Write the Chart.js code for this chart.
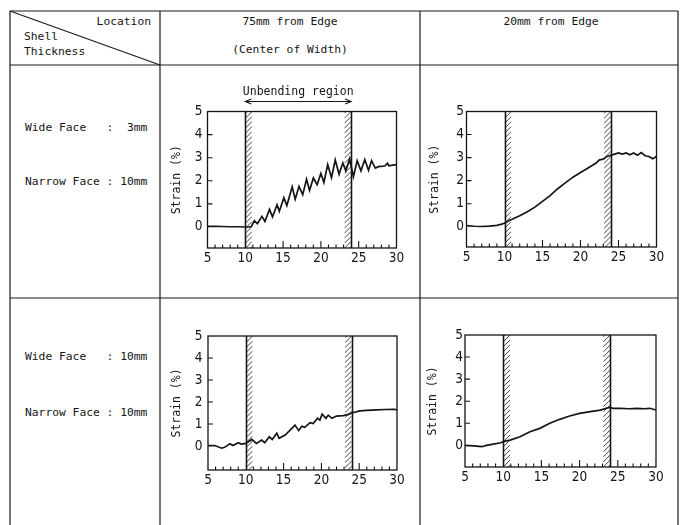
<!DOCTYPE html>
<html><head><meta charset="utf-8">
<script src="https://cdn.jsdelivr.net/npm/chart.js@4.4.1/dist/chart.umd.min.js"></script>
<style>
html,body{margin:0;padding:0;background:#fff;}
#page{position:relative;width:685px;height:525px;overflow:hidden;background:#fff;font-family:"DejaVu Sans Mono",monospace;font-size:11.3px;color:#151515;}
.t{position:absolute;white-space:pre;line-height:1;transform:translateY(-50%);}
.tc{position:absolute;white-space:pre;line-height:1;transform:translate(-50%,-50%);}
.tr{position:absolute;white-space:pre;line-height:1;transform:translate(-100%,-50%);}
canvas{position:absolute;}
svg{position:absolute;left:0;top:0;}
</style></head><body>
<div id="page">
<svg width="685" height="525">
  <g stroke="#1a1a1a" stroke-width="1.2" fill="none">
    <line x1="10" y1="11" x2="678" y2="11"/>
    <line x1="10" y1="65" x2="678" y2="65"/>
    <line x1="10" y1="298" x2="678" y2="298"/>
    <line x1="10" y1="11" x2="10" y2="525"/>
    <line x1="160" y1="11" x2="160" y2="525"/>
    <line x1="420" y1="11" x2="420" y2="525"/>
    <line x1="678" y1="11" x2="678" y2="525"/>
    <line x1="10" y1="11" x2="160" y2="65"/>
  </g>
</svg>
<div class="tr" style="left:151px;top:22px">Location</div>
<div class="t" style="left:24px;top:37px">Shell</div>
<div class="t" style="left:24px;top:52px">Thickness</div>
<div class="tc" style="left:290px;top:22px">75mm from Edge</div>
<div class="tc" style="left:290px;top:50px">(Center of Width)</div>
<div class="tc" style="left:551px;top:22px">20mm from Edge</div>
<div class="t" style="left:25px;top:128px">Wide Face   :  3mm</div>
<div class="t" style="left:25px;top:182px">Narrow Face : 10mm</div>
<div class="t" style="left:25px;top:357px">Wide Face   : 10mm</div>
<div class="t" style="left:25px;top:413px">Narrow Face : 10mm</div>
<canvas id="c1" width="260" height="200" style="left:160px;top:80px"></canvas>
<canvas id="c2" width="260" height="200" style="left:420px;top:80px"></canvas>
<canvas id="c3" width="260" height="200" style="left:160px;top:300px"></canvas>
<canvas id="c4" width="260" height="200" style="left:420px;top:300px"></canvas>
</div>
<script>
// ---- data ----
const xTickValues = [5, 10, 15, 20, 25, 30];
const xMinorTicks = [6, 7, 8, 9, 11, 12, 13, 14, 16, 17, 18, 19, 21, 22, 23, 26, 27, 28, 29];
const xMajorTicks = [15, 20, 25];
const yTickValues = [0, 1, 2, 3, 4, 5];
const yTickMarks = [1, 2, 3, 4];
const bandLines = [10, 24];
const hatchBands = [[10, 10.9], [23.1, 24]];
const regionLabel = 'Unbending region';
const yTitle = 'Strain (%)';

// 75mm from edge, wide face 3mm
const xA = [5, 6, 7, 8, 9, 10, 10.5, 10.8, 11.2, 11.6, 12.2, 12.6, 13.2, 13.6, 14.2, 14.5, 15.1, 15.5, 16.2, 16.6, 17.1, 17.6, 18.1, 18.5, 19.0, 19.5, 20.0, 20.4, 20.9, 21.4, 21.9, 22.4, 22.9, 23.3, 23.8, 24.3, 24.8, 25.3, 25.8, 26.3, 26.7, 27.2, 27.7, 28.0, 28.5, 28.8, 29.0, 29.5, 30];
const yA = [0.03, 0.03, 0.02, 0.01, 0.01, 0.0, 0.0, 0.02, 0.27, 0.14, 0.46, 0.24, 0.76, 0.44, 0.96, 0.68, 1.27, 0.93, 1.74, 1.2, 1.76, 1.4, 2.07, 1.58, 2.12, 1.83, 2.32, 1.93, 2.7, 2.13, 2.9, 2.28, 2.77, 2.43, 2.95, 2.18, 2.87, 2.43, 2.92, 2.45, 2.87, 2.55, 2.62, 2.62, 2.65, 2.76, 2.65, 2.68, 2.7];
// 20mm from edge, wide face 3mm
const xB = [5, 6, 7, 8, 9, 9.5, 10, 10.5, 11, 12, 13, 14, 15, 16, 17, 18, 19, 20, 21, 22, 22.5, 23, 23.5, 24, 24.5, 25, 25.5, 26, 26.5, 27, 27.5, 28, 28.5, 29, 29.5, 30];
const yB = [0.05, 0.02, 0.01, 0.03, 0.06, 0.1, 0.15, 0.25, 0.32, 0.48, 0.65, 0.85, 1.1, 1.35, 1.65, 1.9, 2.15, 2.35, 2.55, 2.75, 2.9, 2.93, 3.05, 3.1, 3.15, 3.2, 3.15, 3.2, 3.12, 3.2, 3.1, 3.22, 3.08, 3.05, 2.95, 3.05];
// 75mm from edge, wide face 10mm
const xC = [5, 5.9, 6.8, 7.2, 7.9, 8.3, 9.0, 9.4, 10.0, 10.8, 11.4, 12.1, 12.5, 13.1, 13.5, 14.1, 14.4, 15.2, 16.1, 16.5, 17.0, 17.4, 17.8, 18.5, 18.9, 19.5, 19.8, 20.1, 20.6, 20.9, 21.4, 22.0, 22.9, 23.6, 24.0, 25.1, 26.0, 27.3, 28.5, 29.6, 30];
const yC = [0.02, 0.02, -0.1, -0.06, 0.1, 0.02, 0.15, 0.09, 0.12, 0.3, 0.12, 0.27, 0.15, 0.42, 0.3, 0.58, 0.35, 0.5, 0.8, 0.95, 0.7, 0.9, 0.85, 1.06, 1.02, 1.26, 1.18, 1.45, 1.26, 1.4, 1.26, 1.36, 1.38, 1.44, 1.5, 1.6, 1.62, 1.64, 1.66, 1.67, 1.64];
// 20mm from edge, wide face 10mm
const xD = [5, 6.1, 7.2, 7.8, 8.7, 9.7, 10, 10.9, 12.2, 13.5, 14.8, 16.1, 17.4, 18.7, 20, 21.4, 22.7, 23.9, 24.4, 25.3, 26.5, 27.5, 28.5, 29.2, 30];
const yD = [0.0, -0.02, -0.06, 0.0, 0.06, 0.12, 0.17, 0.24, 0.39, 0.62, 0.77, 1.0, 1.18, 1.33, 1.45, 1.53, 1.6, 1.72, 1.68, 1.68, 1.66, 1.68, 1.66, 1.68, 1.6];

const INK = '#151515';
const tickFont = {family: '"DejaVu Sans Condensed", "Liberation Sans", sans-serif', size: 13.5};
const monoFont = {family: '"DejaVu Sans Mono", monospace', size: 11.5};

const framePlugin = {
  id: 'frame',
  beforeDatasetsDraw(chart) {
    const {ctx, chartArea: a, scales: {x}} = chart;
    ctx.save();
    ctx.strokeStyle = INK;
    ctx.lineWidth = 0.8;
    hatchBands.forEach(([s, e]) => {
      const p1 = x.getPixelForValue(s), p2 = x.getPixelForValue(e);
      ctx.save();
      ctx.beginPath();
      ctx.rect(p1, a.top, p2 - p1, a.bottom - a.top);
      ctx.clip();
      ctx.beginPath();
      const dy = (p2 - p1) * 1.0;
      for (let y = a.top - 10; y < a.bottom + 10; y += 5) {
        ctx.moveTo(p1, y + dy);
        ctx.lineTo(p2, y);
      }
      ctx.stroke();
      ctx.restore();
    });
    ctx.restore();
  },
  afterDatasetsDraw(chart, args, opts) {
    const {ctx, chartArea: a, scales: {x, y}} = chart;
    ctx.save();
    ctx.strokeStyle = INK;
    ctx.lineWidth = 1.6;
    bandLines.forEach(v => {
      const p = Math.round(x.getPixelForValue(v)) + 0.5;
      ctx.beginPath(); ctx.moveTo(p, a.top); ctx.lineTo(p, a.bottom); ctx.stroke();
    });
    ctx.lineWidth = 1.3;
    ctx.strokeRect(a.left, a.top, a.right - a.left, a.bottom - a.top);
    ctx.lineWidth = 1.1;
    ctx.beginPath();
    xMinorTicks.forEach(v => { const p = x.getPixelForValue(v); ctx.moveTo(p, a.bottom); ctx.lineTo(p, a.bottom - 3.5); });
    xMajorTicks.forEach(v => { const p = x.getPixelForValue(v); ctx.moveTo(p, a.bottom); ctx.lineTo(p, a.bottom - 7); });
    yTickMarks.forEach(v => { const p = y.getPixelForValue(v); ctx.moveTo(a.left, p); ctx.lineTo(a.left + 5, p); });
    ctx.stroke();
    if (opts.region) {
      const p1 = x.getPixelForValue(bandLines[0]), p2 = x.getPixelForValue(bandLines[1]);
      const ay = a.top - 10;
      ctx.lineWidth = 1.1;
      ctx.beginPath();
      ctx.moveTo(p1, ay); ctx.lineTo(p2, ay);
      ctx.moveTo(p1 + 6, ay - 2.5); ctx.lineTo(p1, ay); ctx.lineTo(p1 + 6, ay + 2.5);
      ctx.moveTo(p2 - 6, ay - 2.5); ctx.lineTo(p2, ay); ctx.lineTo(p2 - 6, ay + 2.5);
      ctx.stroke();
      ctx.fillStyle = INK;
      ctx.font = '11.5px "DejaVu Sans Mono", monospace';
      ctx.textAlign = 'center';
      ctx.textBaseline = 'middle';
      ctx.fillText(regionLabel, (p1 + p2) / 2, a.top - 19);
    }
    ctx.restore();
  }
};

function makeChart(id, xs, ys, c) {
  const pts = xs.map((v, i) => ({x: v, y: ys[i]}));
  return new Chart(document.getElementById(id), {
    type: 'line',
    data: {datasets: [{data: pts, borderColor: INK, borderWidth: 1.7, pointRadius: 0, tension: 0, fill: false}]},
    options: {
      responsive: false, animation: false, events: [],
      layout: {padding: {left: 0, top: c.padTop, right: c.padRight, bottom: c.padBottom}},
      plugins: {legend: {display: false}, tooltip: {enabled: false}, frame: {region: c.region}},
      scales: {
        x: {
          type: 'linear', min: xTickValues[0], max: xTickValues[xTickValues.length - 1],
          afterBuildTicks: s => { s.ticks = xTickValues.map(v => ({value: v})); },
          afterFit: s => { s.height = 24; },
          grid: {display: false, drawTicks: false}, border: {display: false},
          ticks: {padding: 2, color: INK, font: tickFont, maxRotation: 0, autoSkip: false}
        },
        y: {
          type: 'linear', min: c.yMin, max: 5,
          afterBuildTicks: s => { s.ticks = yTickValues.map(v => ({value: v})); },
          afterFit: s => { s.width = c.yAxisW; },
          grid: {display: false, drawTicks: false}, border: {display: false},
          ticks: {padding: c.yPad, color: INK, font: tickFont},
          title: {display: true, text: yTitle, color: INK, font: monoFont, padding: {top: c.titlePad, bottom: 0}}
        }
      }
    },
    plugins: [framePlugin]
  });
}

makeChart('c1', xA, yA, {padTop: 31.5, padRight: 23.5, padBottom: 8, yMin: -0.91, yAxisW: 47.5, yPad: 5, titlePad: 10, region: true});
makeChart('c2', xB, yB, {padTop: 31.5, padRight: 23.5, padBottom: 9, yMin: -0.88, yAxisW: 46.5, yPad: 2.5, titlePad: 8, region: false});
makeChart('c3', xC, yC, {padTop: 36, padRight: 23, padBottom: 6, yMin: -1.09, yAxisW: 48, yPad: 5.5, titlePad: 9.8, region: false});
makeChart('c4', xD, yD, {padTop: 35, padRight: 24, padBottom: 9, yMin: -0.98, yAxisW: 45, yPad: 2, titlePad: 6.4, region: false});
</script>
</body></html>
